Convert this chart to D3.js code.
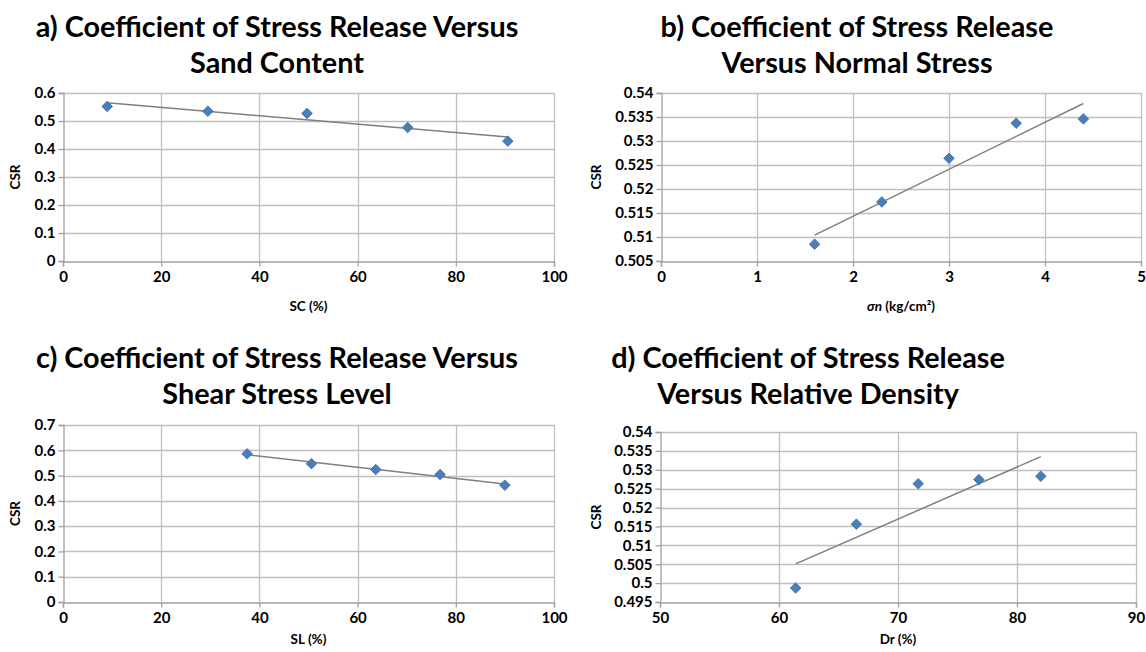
<!DOCTYPE html>
<html>
<head>
<meta charset="utf-8">
<script src="https://cdn.jsdelivr.net/npm/d3@7"></script>
<style>
  html, body { margin: 0; padding: 0; background: #fff; }
  svg { display: block; font-family: Lato, "Noto Sans", sans-serif; }
</style>
</head>
<body>
<svg id="chart" width="1146" height="652"></svg>
<script>
// ---------- DATA ----------
// a) CSR vs Sand Content
const aX = [9, 29.5, 49.7, 70.2, 90.6];
const aY = [0.552, 0.535, 0.527, 0.477, 0.428];
const aXTicks = [0, 20, 40, 60, 80, 100];
const aYTicks = [0, 0.1, 0.2, 0.3, 0.4, 0.5, 0.6];
const aYLabels = ["0", "0.1", "0.2", "0.3", "0.4", "0.5", "0.6"];

// b) CSR vs Normal Stress
const bX = [1.6, 2.3, 3.0, 3.7, 4.4];
const bY = [0.5085, 0.5173, 0.5264, 0.5337, 0.5346];
const bXTicks = [0, 1, 2, 3, 4, 5];
const bYTicks = [0.505, 0.51, 0.515, 0.52, 0.525, 0.53, 0.535, 0.54];
const bYLabels = ["0.505", "0.51", "0.515", "0.52", "0.525", "0.53", "0.535", "0.54"];

// c) CSR vs Shear Stress Level
const cX = [37.5, 50.6, 63.7, 76.8, 90.0];
const cY = [0.586, 0.547, 0.524, 0.504, 0.462];
const cXTicks = [0, 20, 40, 60, 80, 100];
const cYTicks = [0, 0.1, 0.2, 0.3, 0.4, 0.5, 0.6, 0.7];
const cYLabels = ["0", "0.1", "0.2", "0.3", "0.4", "0.5", "0.6", "0.7"];

// d) CSR vs Relative Density
const dX = [61.4, 66.5, 71.7, 76.8, 82.0];
const dY = [0.4987, 0.5156, 0.5263, 0.5274, 0.5283];
const dXTicks = [50, 60, 70, 80, 90];
const dYTicks = [0.495, 0.5, 0.505, 0.51, 0.515, 0.52, 0.525, 0.53, 0.535, 0.54];
const dYLabels = ["0.495", "0.5", "0.505", "0.51", "0.515", "0.52", "0.525", "0.53", "0.535", "0.54"];

const titlesA = ["a) Coefficient of Stress Release Versus", "Sand Content"];
const titlesB = ["b) Coefficient of Stress Release", "Versus Normal Stress"];
const titlesC = ["c) Coefficient of Stress Release Versus", "Shear Stress Level"];
const titlesD = ["d) Coefficient of Stress Release", "Versus Relative Density"];

// ---------- LAYOUT ----------
const panels = [
  { xs: aX, ys: aY, xt: aXTicks, yt: aYTicks, yl: aYLabels, titles: titlesA, xlab: "SC (%)",
    box: { l: 63, r: 554, t: 93, b: 261 }, titleX: 277, titleY: [37, 73], xlabY: 311, ylabX: 20 },
  { xs: bX, ys: bY, xt: bXTicks, yt: bYTicks, yl: bYLabels, titles: titlesB, xlab: "sigma",
    box: { l: 661, r: 1141, t: 93, b: 261 }, titleX: 857, titleY: [37, 73], xlabY: 311, ylabX: 601 },
  { xs: cX, ys: cY, xt: cXTicks, yt: cYTicks, yl: cYLabels, titles: titlesC, xlab: "SL (%)",
    box: { l: 63, r: 554, t: 425, b: 602 }, titleX: 277, titleY: [368, 404], xlabY: 644, ylabX: 20 },
  { xs: dX, ys: dY, xt: dXTicks, yt: dYTicks, yl: dYLabels, titles: titlesD, xlab: "Dr (%)",
    box: { l: 660, r: 1136, t: 432, b: 602 }, titleX: 808, titleY: [368, 404], xlabY: 644, ylabX: 601 }
];

const svg = d3.select("#chart");
const gridColor = "#bfbfbf";
const axisColor = "#a0a0a0";
const markerFill = "#4a7ebb";
const markerStroke = "#3d6ea6";

// title font size fitted to the reference width of the first title line
const probe = svg.append("text").attr("font-weight", 700).attr("font-size", 26).text(titlesA[0]);
const probeLen = probe.node().getComputedTextLength();
probe.remove();
const titleSize = 26 * 483 / probeLen;

function regression(xs, ys) {
  const mx = d3.mean(xs), my = d3.mean(ys);
  let sxy = 0, sxx = 0;
  xs.forEach((x, i) => { sxy += (x - mx) * (ys[i] - my); sxx += (x - mx) * (x - mx); });
  const m = sxy / sxx;
  return { m, b: my - m * mx };
}

panels.forEach(p => {
  const B = p.box;
  const xs = d3.scaleLinear().domain(d3.extent(p.xt)).range([B.l, B.r]);
  const ys = d3.scaleLinear().domain(d3.extent(p.yt)).range([B.b, B.t]);
  const g = svg.append("g");

  // grid lines
  g.append("g").selectAll("line").data(p.xt.slice(1)).join("line")
    .attr("x1", d => Math.round(xs(d)) + 0.5).attr("x2", d => Math.round(xs(d)) + 0.5)
    .attr("y1", B.t).attr("y2", B.b)
    .attr("stroke", gridColor).attr("stroke-width", 1.3);
  g.append("g").selectAll("line").data(p.yt.slice(1)).join("line")
    .attr("x1", B.l).attr("x2", B.r)
    .attr("y1", d => Math.round(ys(d)) + 0.5).attr("y2", d => Math.round(ys(d)) + 0.5)
    .attr("stroke", gridColor).attr("stroke-width", 1.3);

  // axes
  const xAxis = d3.axisBottom(xs).tickValues(p.xt).tickSize(5).tickPadding(5).tickFormat(d => String(d));
  const yAxis = d3.axisLeft(ys).tickValues(p.yt).tickSize(5).tickPadding(3)
    .tickFormat((d, i) => p.yl[i]);

  const gx = g.append("g").attr("transform", `translate(0,${Math.round(B.b) + 0.5})`).call(xAxis);
  const gy = g.append("g").attr("transform", `translate(${Math.round(B.l) + 0.5},0)`).call(yAxis);
  [gx, gy].forEach(a => {
    a.select(".domain").attr("stroke", axisColor).attr("stroke-width", 1.3);
    a.selectAll(".tick line").attr("stroke", axisColor).attr("stroke-width", 1.3);
    a.selectAll(".tick text").attr("fill", "#000").attr("font-size", 15).attr("font-weight", 700)
      .attr("font-family", "Lato, 'Noto Sans', sans-serif");
  });

  // trend line (linear least squares)
  const r = regression(p.xs, p.ys);
  const x0 = d3.min(p.xs), x1 = d3.max(p.xs);
  g.append("line")
    .attr("x1", xs(x0)).attr("y1", ys(r.m * x0 + r.b))
    .attr("x2", xs(x1)).attr("y2", ys(r.m * x1 + r.b))
    .attr("stroke", "#7f7f7f").attr("stroke-width", 1.5);

  // markers (diamonds)
  const sym = d3.symbol().type(d3.symbolSquare).size(56);
  g.append("g").selectAll("path").data(p.xs.map((v, i) => [v, p.ys[i]])).join("path")
    .attr("d", sym)
    .attr("transform", d => `translate(${xs(d[0])},${ys(d[1])}) rotate(45)`)
    .attr("fill", markerFill).attr("stroke", markerStroke).attr("stroke-width", 0.8);

  // titles
  p.titles.forEach((t, i) => {
    g.append("text").attr("x", p.titleX).attr("y", p.titleY[i])
      .attr("text-anchor", "middle").attr("font-weight", 700).attr("font-size", titleSize)
      .attr("fill", "#000").text(t);
  });

  // x axis label
  const xl = g.append("text").attr("x", (B.l + B.r) / 2).attr("y", p.xlabY)
    .attr("text-anchor", "middle").attr("font-weight", 700).attr("font-size", 13.5).attr("fill", "#000");
  if (p.xlab === "sigma") {
    xl.append("tspan").attr("font-style", "italic").text("σn");
    xl.append("tspan").text(" (kg/cm²)");
  } else {
    xl.text(p.xlab);
  }

  // y axis label
  const cy = (B.t + B.b) / 2;
  g.append("text").attr("transform", `translate(${p.ylabX},${cy}) rotate(-90)`)
    .attr("text-anchor", "middle").attr("font-weight", 700).attr("font-size", 13.5)
    .attr("fill", "#000").text("CSR");
});
</script>
</body>
</html>
